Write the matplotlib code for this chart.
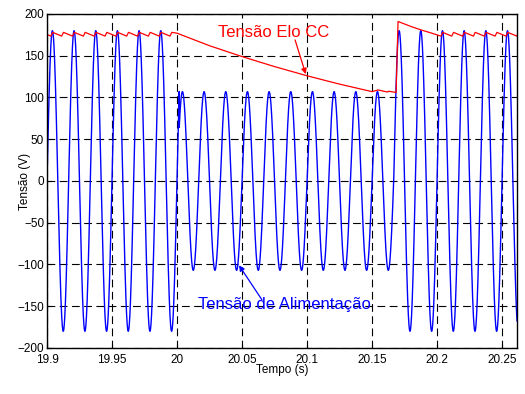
import numpy as np
import matplotlib.pyplot as plt

plt.rcParams['font.family'] = ['Liberation Sans', 'DejaVu Sans']

# rede de alimentação: 60 Hz, amplitude por intervalo (afundamento entre 20.0 e 20.167 s)
freq = 60
supply_t = [19.9, 20.0017, 20.1667, 20.265]
supply_amp = [180, 107, 180]

# elo CC: ondulação em regime e trechos do afundamento / recuperação
ripple_hi = 178
ripple_lo = 173.5
sag_t = [20.0, 20.025, 20.05, 20.075, 20.1, 20.125, 20.15, 20.1546, 20.162, 20.1625, 20.1685]
sag_v = [177, 162, 149, 137, 126, 116, 107, 109, 106.5, 107.5, 106]
recovery_t = [20.170, 20.175, 20.180, 20.1875, 20.196]
recovery_v = [191, 188, 185, 181, 177]

xticks = [19.9, 19.95, 20.0, 20.05, 20.1, 20.15, 20.2, 20.25]
xtick_labels = ['19.9', '19.95', '20', '20.05', '20.1', '20.15', '20.2', '20.25']
yticks = [-200, -150, -100, -50, 0, 50, 100, 150, 200]

# tensão de alimentação
t = np.linspace(supply_t[0], supply_t[-1], 30000)
amp = np.piecewise(t, [(t >= a) & (t < b) for a, b in zip(supply_t[:-1], supply_t[1:])], supply_amp)
v_supply = amp * np.sin(2 * np.pi * freq * t)

# tensão do elo CC: carga a cada pico de meio ciclo, descarga entre picos
half_peaks = supply_t[0] + 1 / (4 * freq) + np.arange(0, 45) / (2 * freq)
dc_t, dc_v = [19.9], [175.5]
for tp in half_peaks[half_peaks < 20.0]:
    dc_t += [tp - 0.0012, tp + 0.0002]
    dc_v += [ripple_lo, ripple_hi]
dc_t += sag_t + recovery_t
dc_v += sag_v + recovery_v
for tp in half_peaks[(half_peaks > 20.2) & (half_peaks < 20.265)]:
    dc_t += [tp - 0.0012, tp + 0.0002]
    dc_v += [ripple_lo, ripple_hi]
dc_t.append(20.265)
dc_v.append(176)

fig = plt.figure(figsize=(5.25, 3.94), dpi=100)
ax = fig.add_axes([0.0895, 0.1168, 0.8953, 0.8477])

ax.plot(t, v_supply, color='#0000ff', lw=1.0)
ax.plot(dc_t, dc_v, color='#ff0000', lw=0.9)

ax.set_xlim(19.9, 20.2615)
ax.set_ylim(-200, 200)
ax.set_xticks(xticks)
ax.set_xticklabels(xtick_labels)
ax.set_yticks(yticks)
ax.tick_params(direction='in', length=3, labelsize=8.5, width=0.8)
ax.tick_params(axis='y', pad=2)
ax.tick_params(axis='x', pad=4)
ax.grid(True, color='black', linestyle=(0, (7, 4)), lw=0.8)
for s in ax.spines.values():
    s.set_linewidth(1.0)

ax.set_xlabel('Tempo (s)', fontsize=8.5, labelpad=-1)
ax.set_ylabel('Tensão (V)', fontsize=8.5, labelpad=-10)

# rótulos e setas
ax.text(20.0746, 178.4, 'Tensão Elo CC', color='#ff0000', fontsize=12,
        ha='center', va='center')
ax.annotate('', xy=(20.099, 128), xytext=(20.0908, 168.9),
            arrowprops=dict(arrowstyle='-|>', color='#ff0000', lw=0.9,
                            mutation_scale=8, shrinkA=0, shrinkB=0))
ax.text(20.083, -148.5, 'Tensão de Alimentação', color='#0000ff', fontsize=12,
        ha='center', va='center')
ax.annotate('', xy=(20.0477, -101), xytext=(20.0654, -142.5),
            arrowprops=dict(arrowstyle='-|>', color='#0000ff', lw=0.9,
                            mutation_scale=8, shrinkA=0, shrinkB=0))

fig.savefig('out.png', dpi=100)
